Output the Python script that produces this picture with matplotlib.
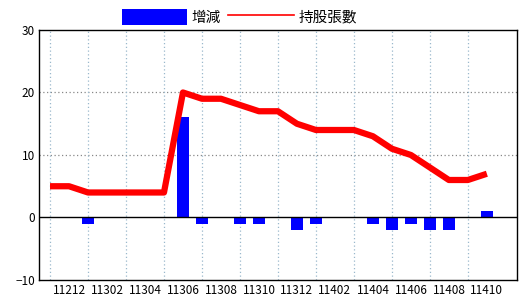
import matplotlib
matplotlib.use('Agg')
import matplotlib.pyplot as plt
import numpy as np
from matplotlib.patches import Patch
from matplotlib.lines import Line2D

plt.rcParams['font.family'] = ['Noto Sans CJK TC', 'DejaVu Sans']

# months 11211 .. 11410
months = ['11211', '11212', '11301', '11302', '11303', '11304', '11305', '11306',
          '11307', '11308', '11309', '11310', '11311', '11312', '11401', '11402',
          '11403', '11404', '11405', '11406', '11407', '11408', '11409', '11410']
holdings = [5, 5, 4, 4, 4, 4, 4, 20, 19, 19, 18, 17, 17, 15, 14, 14, 14, 13,
            11, 10, 8, 6, 6, 7]
changes = [0, 0, -1, 0, 0, 0, 0, 16, -1, 0, -1, -1, 0, -2, -1, 0, 0, -1,
           -2, -1, -2, -2, 0, 1]
yticks = [-10, 0, 10, 20, 30]

x = np.arange(len(months))

fig = plt.figure(figsize=(5.2, 3.0), dpi=100)
ax = fig.add_axes([0.075, 0.0667, 0.919, 0.8333])

ax.bar(x, changes, width=0.63, color='#0000ff', zorder=2)
ax.plot(x, holdings, color='#ff0000', lw=4.5, zorder=3, solid_capstyle='butt')
ax.axhline(0, color='black', lw=1, zorder=2.5)

ax.set_xlim(-0.58, 24.58)
ax.set_ylim(-10, 30)
ax.set_yticks(yticks)
ax.set_xticks(x[1::2])
ax.set_xticklabels(months[1::2])
ax.set_xticks(x[0::2], minor=True)
ax.tick_params(axis='both', which='both', length=0, labelsize=8.5)
ax.tick_params(axis='x', pad=3)
ax.tick_params(axis='y', pad=3)

ax.grid(False)
ax.xaxis.grid(True, which='minor', color='#9ab8cc', ls=(0, (1, 2)), lw=0.9)
for yv in [10, 20]:
    ax.axhline(yv, color='#888888', ls=(0, (1, 2)), lw=0.9, zorder=1)

for s in ax.spines.values():
    s.set_color('black')
    s.set_linewidth(1)

handles = [Patch(facecolor='#0000ff', edgecolor='none'),
           Line2D([0], [0], color='#ff0000', lw=1.2)]
fig.legend(handles, ['增減', '持股張數'], loc='upper center',
           bbox_to_anchor=(0.46, 1.0), ncol=2, frameon=False, fontsize=10.5,
           handlelength=4.5, handleheight=1.3, handletextpad=0.3,
           columnspacing=0.5, borderaxespad=0.2)

fig.savefig('out.png', dpi=100)
